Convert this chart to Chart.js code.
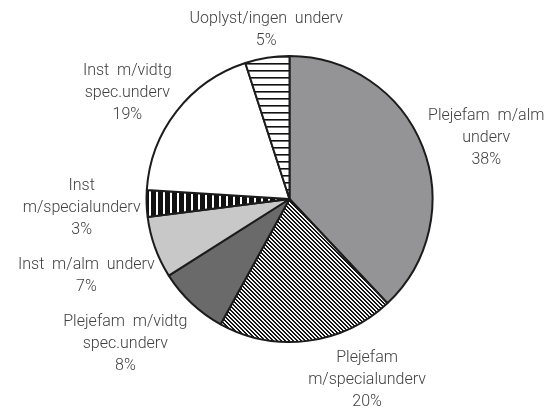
<!DOCTYPE html>
<html>
<head>
<meta charset="utf-8">
<script src="https://cdn.jsdelivr.net/npm/chart.js@4/dist/chart.umd.min.js"></script>
<style>
  html, body { margin: 0; padding: 0; background: #ffffff; }
  #wrap { width: 553px; height: 412px; position: relative; }
</style>
</head>
<body>
<div id="wrap"><canvas id="c" width="553" height="412"></canvas></div>
<script>
// ---- data ----
const categories = [
  ['Plejefam  m/alm', 'underv'],
  ['Plejefam', 'm/specialunderv'],
  ['Plejefam  m/vidtg', 'spec.underv'],
  ['Inst  m/alm  underv'],
  ['Inst', 'm/specialunderv'],
  ['Inst  m/vidtg', 'spec.underv'],
  ['Uoplyst/ingen  underv']
];
const values = [38, 20, 8, 7, 3, 19, 5];

// ---- label placement styles (fraction of label box at anchor) ----
const labelHFrac = [0, 0, 1, 0.96, 1, 1, 0.5];
const labelVFrac = [0.6, 0, -0.05, -0.1, 0.44, 0.72, 1];

// ---- fills ----
function makePattern(size, painter) {
  const c = document.createElement('canvas');
  c.width = size; c.height = size;
  const g = c.getContext('2d');
  painter(g, size);
  return g.createPattern(c, 'repeat');
}
const hStripes = makePattern(7, (g, s) => {
  g.fillStyle = '#ffffff'; g.fillRect(0, 0, s, s);
  g.fillStyle = '#111111'; g.fillRect(0, 0, s, 1.6);
});
const vStripes = makePattern(7, (g, s) => {
  g.fillStyle = '#111111'; g.fillRect(0, 0, s, s);
  g.fillStyle = '#ffffff'; g.fillRect(2, 0, 2, s);
});
const diag = makePattern(4, (g, s) => {
  const img = g.createImageData(s, s);
  for (let y = 0; y < s; y++) for (let x = 0; x < s; x++) {
    const k = (((x - y) % s) + s) % s;
    const v = k < 2 ? 20 : 245;
    const i = (y * s + x) * 4;
    img.data[i] = v; img.data[i + 1] = v; img.data[i + 2] = v; img.data[i + 3] = 255;
  }
  g.putImageData(img, 0, 0);
});
const fills = ['#949496', diag, '#6a6a6a', '#c8c8c8', vStripes, '#ffffff', hStripes];

const FONT = '300 16px Roboto';
const LH = 22;
const GAP = 6;

const outLabels = {
  id: 'outLabels',
  afterDatasetsDraw(chart) {
    const ctx = chart.ctx;
    const meta = chart.getDatasetMeta(0);
    ctx.save();
    ctx.font = FONT;
    ctx.fillStyle = '#404040';
    ctx.textAlign = 'center';
    ctx.textBaseline = 'middle';
    meta.data.forEach((arc, i) => {
      const p = arc.getProps(['x', 'y', 'startAngle', 'endAngle', 'outerRadius'], true);
      const mid = (p.startAngle + p.endAngle) / 2;
      const ax = p.x + Math.cos(mid) * (p.outerRadius + GAP);
      const ay = p.y + Math.sin(mid) * (p.outerRadius + GAP);
      const lines = categories[i].concat([values[i] + '%']);
      const w = Math.max(...lines.map(l => ctx.measureText(l).width));
      const h = lines.length * LH;
      const left = ax - labelHFrac[i] * w;
      const top = ay - labelVFrac[i] * h;
      lines.forEach((l, k) => ctx.fillText(l, left + w / 2, top + LH * (k + 0.5)));
    });
    ctx.restore();
  }
};

new Chart(document.getElementById('c'), {
  type: 'pie',
  data: {
    labels: categories.map(c => c.join(' ')),
    datasets: [{
      data: values,
      backgroundColor: fills,
      borderColor: '#1c1c1c',
      borderWidth: 2,
      hoverOffset: 0,
      radius: 143
    }]
  },
  options: {
    responsive: false,
    animation: false,
    devicePixelRatio: 1,
    layout: { padding: { left: 145, right: 119, top: 55, bottom: 69 } },
    plugins: { legend: { display: false }, tooltip: { enabled: false } }
  },
  plugins: [outLabels]
});
</script>
</body>
</html>
